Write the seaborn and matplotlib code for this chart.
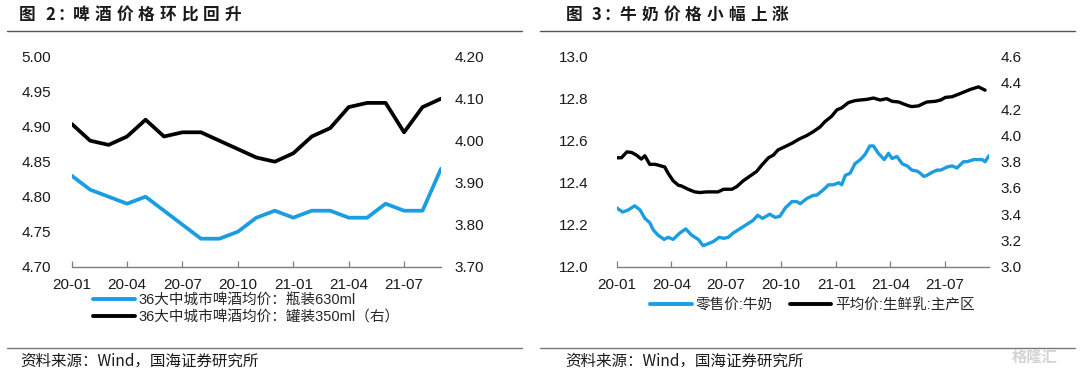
import pandas as pd
import matplotlib.pyplot as plt
import matplotlib.dates as mdates
from matplotlib.lines import Line2D
import seaborn as sns

# 图2：啤酒价格（月度，20-01 ~ 21-09）
beer_months = ['20-01', '20-02', '20-03', '20-04', '20-05', '20-06', '20-07',
               '20-08', '20-09', '20-10', '20-11', '20-12', '21-01', '21-02',
               '21-03', '21-04', '21-05', '21-06', '21-07', '21-08', '21-09']
bottle_630 = [4.83, 4.81, 4.80, 4.79, 4.80, 4.78, 4.76, 4.74, 4.74, 4.75, 4.77,
              4.78, 4.77, 4.78, 4.78, 4.77, 4.77, 4.79, 4.78, 4.78, 4.84]
can_350 = [4.04, 4.00, 3.99, 4.01, 4.05, 4.01, 4.02, 4.02, 4.00, 3.98, 3.96,
           3.95, 3.97, 4.01, 4.03, 4.08, 4.09, 4.09, 4.02, 4.08, 4.10]
beer_labels = ['36大中城市啤酒均价：瓶装630ml', '36大中城市啤酒均价：罐装350ml（右）']

# 图3：牛奶价格（周度）
milk_retail_dates = [
    '2020-01-01', '2020-01-11', '2020-01-20', '2020-01-31', '2020-02-09', '2020-02-17',
    '2020-02-25', '2020-03-02', '2020-03-10', '2020-03-20', '2020-03-27', '2020-04-04',
    '2020-04-15', '2020-04-25', '2020-05-05', '2020-05-16', '2020-05-24', '2020-06-02',
    '2020-06-10', '2020-06-20', '2020-06-27', '2020-07-05', '2020-07-13', '2020-07-24',
    '2020-08-04', '2020-08-15', '2020-08-23', '2020-08-31', '2020-09-12', '2020-09-21',
    '2020-09-29', '2020-10-08', '2020-10-19', '2020-10-27', '2020-11-02', '2020-11-13',
    '2020-11-24', '2020-11-29', '2020-12-10', '2020-12-19', '2020-12-27', '2021-01-05',
    '2021-01-10', '2021-01-16', '2021-01-24', '2021-02-01', '2021-02-10', '2021-02-18',
    '2021-02-26', '2021-03-04', '2021-03-12', '2021-03-22', '2021-03-29', '2021-04-04',
    '2021-04-12', '2021-04-21', '2021-04-29', '2021-05-07', '2021-05-16', '2021-05-21',
    '2021-05-27', '2021-06-01', '2021-06-10', '2021-06-18', '2021-06-24', '2021-07-05',
    '2021-07-13', '2021-07-21', '2021-08-01', '2021-08-07', '2021-08-18', '2021-08-26',
    '2021-09-01', '2021-09-06', '2021-09-13']
milk_retail = [
    12.28, 12.26, 12.27, 12.29, 12.27, 12.23,
    12.21, 12.175, 12.15, 12.13, 12.14, 12.13,
    12.16, 12.18, 12.15, 12.13, 12.10, 12.11,
    12.12, 12.14, 12.135, 12.14, 12.16, 12.18,
    12.20, 12.22, 12.245, 12.23, 12.25, 12.235,
    12.24, 12.28, 12.31, 12.31, 12.30, 12.325,
    12.34, 12.34, 12.365, 12.39, 12.39, 12.40,
    12.39, 12.435, 12.445, 12.49, 12.51, 12.535,
    12.575, 12.575, 12.54, 12.51, 12.54, 12.515,
    12.525, 12.49, 12.48, 12.46, 12.455, 12.445,
    12.43, 12.435, 12.45, 12.46, 12.46, 12.475,
    12.48, 12.47, 12.50, 12.50, 12.51, 12.51,
    12.51, 12.50, 12.53]

raw_milk_dates = [
    '2020-01-01', '2020-01-09', '2020-01-18', '2020-01-26', '2020-02-03', '2020-02-11',
    '2020-02-17', '2020-02-25', '2020-03-05', '2020-03-13', '2020-03-21', '2020-03-27',
    '2020-04-04', '2020-04-13', '2020-04-18', '2020-04-29', '2020-05-10', '2020-05-19',
    '2020-05-30', '2020-06-10', '2020-06-18', '2020-06-27', '2020-07-11', '2020-07-19',
    '2020-07-30', '2020-08-10', '2020-08-21', '2020-08-30', '2020-09-10', '2020-09-18',
    '2020-09-26', '2020-10-10', '2020-10-21', '2020-10-30', '2020-11-13', '2020-11-24',
    '2020-12-05', '2020-12-13', '2020-12-24', '2021-01-02', '2021-01-10', '2021-01-21',
    '2021-02-01', '2021-02-10', '2021-02-21', '2021-03-04', '2021-03-15', '2021-03-26',
    '2021-04-04', '2021-04-15', '2021-04-23', '2021-05-02', '2021-05-07', '2021-05-18',
    '2021-05-27', '2021-06-01', '2021-06-15', '2021-06-24', '2021-07-02', '2021-07-13',
    '2021-07-27', '2021-08-04', '2021-08-12', '2021-08-26', '2021-09-06']
raw_milk = [
    3.83, 3.83, 3.875, 3.87, 3.85, 3.82,
    3.845, 3.78, 3.78, 3.77, 3.76, 3.71,
    3.655, 3.62, 3.615, 3.59, 3.57, 3.565,
    3.57, 3.57, 3.57, 3.59, 3.59, 3.61,
    3.655, 3.69, 3.725, 3.775, 3.83, 3.85,
    3.89, 3.92, 3.945, 3.97, 4.00, 4.03,
    4.065, 4.105, 4.145, 4.195, 4.21, 4.25,
    4.265, 4.27, 4.275, 4.285, 4.27, 4.28,
    4.26, 4.255, 4.24, 4.225, 4.22, 4.225,
    4.245, 4.255, 4.26, 4.27, 4.29, 4.295,
    4.32, 4.335, 4.35, 4.37, 4.345]
milk_labels = ['零售价:牛奶', '平均价:生鲜乳:主产区']

BLUE = '#1b9de2'
BLACK = '#000000'
TEXT = '#1a1a1a'
W, H = 1080, 374

sns.set_theme(style='white')
plt.rcParams['font.family'] = ['Liberation Sans', 'Noto Sans CJK SC']
plt.rcParams['axes.unicode_minus'] = False

fig = plt.figure(figsize=(W / 100, H / 100), dpi=100)


def fx(px):
    return px / W


def fy(py):
    return 1 - py / H


def style_axes(ax, ax2, left_pad, right_pad):
    for s in ['top', 'left', 'right']:
        ax.spines[s].set_visible(False)
    ax.spines['bottom'].set_color('#7f7f7f')
    ax.spines['bottom'].set_linewidth(1.0)
    for s in ax2.spines.values():
        s.set_visible(False)
    ax.tick_params(axis='x', direction='in', length=4.5, width=0.9, color='#7f7f7f',
                   pad=8, labelsize=11, labelcolor=TEXT, bottom=True)
    ax.tick_params(axis='y', length=0, pad=left_pad, labelsize=11, labelcolor=TEXT)
    ax2.tick_params(axis='y', length=0, pad=right_pad, labelsize=11, labelcolor=TEXT)
    ax.grid(False)
    ax2.grid(False)


# ---- 左图：啤酒 ----
ax1 = fig.add_axes([fx(71.7), fy(266.7), fx(441) - fx(71.7), fy(56.7) - fy(266.7)])
ax1b = ax1.twinx()
xpos = list(range(len(beer_months)))
sns.lineplot(x=xpos, y=bottle_630, ax=ax1, color=BLUE, lw=2.7)
sns.lineplot(x=xpos, y=can_350, ax=ax1b, color=BLACK, lw=2.7)
ax1.set_xlim(0, len(beer_months) - 1)
ax1.set_xticks(xpos[::3])
ax1.set_xticklabels(beer_months[::3])
ax1.set_ylim(4.70, 5.00)
ax1.set_yticks([4.70, 4.75, 4.80, 4.85, 4.90, 4.95, 5.00])
ax1.yaxis.set_major_formatter('{x:.2f}')
ax1b.set_ylim(3.70, 4.20)
ax1b.set_yticks([3.70, 3.80, 3.90, 4.00, 4.10, 4.20])
ax1b.yaxis.set_major_formatter('{x:.2f}')
style_axes(ax1, ax1b, 15, 10)
ax1.set_xlabel('')

h1 = [Line2D([], [], color=BLUE, lw=2.8), Line2D([], [], color=BLACK, lw=2.8)]
fig.legend(h1, beer_labels, loc='upper left', bbox_to_anchor=(fx(93), fy(293)),
           frameon=False, fontsize=10.5, handlelength=2.85, handletextpad=0.25,
           labelspacing=0.2, borderpad=0, borderaxespad=0)

# ---- 右图：牛奶 ----
ax2 = fig.add_axes([fx(616.7), fy(266.7), fx(989.3) - fx(616.7), fy(56.7) - fy(266.7)])
ax2b = ax2.twinx()
sns.lineplot(x=pd.to_datetime(milk_retail_dates), y=milk_retail, ax=ax2, color=BLUE, lw=2.4)
sns.lineplot(x=pd.to_datetime(raw_milk_dates), y=raw_milk, ax=ax2b, color=BLACK, lw=2.4)
ax2.set_xlim(pd.Timestamp('2020-01-01'), pd.Timestamp('2021-09-13'))
ax2.set_xticks(pd.to_datetime(['2020-01-01', '2020-04-01', '2020-07-01', '2020-10-01',
                               '2021-01-01', '2021-04-01', '2021-07-01']))
ax2.xaxis.set_major_formatter(mdates.DateFormatter('%y-%m'))
ax2.set_ylim(12.0, 13.0)
ax2.set_yticks([12.0, 12.2, 12.4, 12.6, 12.8, 13.0])
ax2.yaxis.set_major_formatter('{x:.1f}')
ax2b.set_ylim(3.0, 4.6)
ax2b.set_yticks([3.0, 3.2, 3.4, 3.6, 3.8, 4.0, 4.2, 4.4, 4.6])
ax2b.yaxis.set_major_formatter('{x:.1f}')
style_axes(ax2, ax2b, 20, 8)
ax2.set_xlabel('')

h2 = [Line2D([], [], color=BLUE, lw=2.8), Line2D([], [], color=BLACK, lw=2.8)]
fig.legend(h2, milk_labels, loc='upper left', bbox_to_anchor=(fx(650), fy(298)),
           ncol=2, frameon=False, fontsize=10.5, handlelength=2.85, handletextpad=0.25,
           columnspacing=1.2, borderpad=0, borderaxespad=0)


# ---- 标题、分隔线、资料来源 ----
def chart_title(x, num, body):
    kw = dict(fontsize=12, fontweight='bold', color=TEXT, va='center', ha='left',
              family=['Noto Sans CJK SC'])
    fig.text(fx(x), fy(15), '图', **kw)
    fig.text(fx(x + 26), fy(15), num, **kw)
    fig.text(fx(x + 38), fy(15), '：', **kw)
    for i, ch in enumerate(body):
        fig.text(fx(x + 54 + i * 21.7), fy(15), ch, **kw)


chart_title(19, '2', '啤酒价格环比回升')
chart_title(565.7, '3', '牛奶价格小幅上涨')

for x0, x1 in [(7, 522), (540, 1075)]:
    fig.add_artist(Line2D([fx(x0), fx(x1)], [fy(31), fy(31)], color='#555555', lw=1.0))
    fig.add_artist(Line2D([fx(x0), fx(x1)], [fy(348), fy(348)], color='#777777', lw=1.0))

src = '资料来源：Wind，国海证券研究所'
fig.text(fx(20), fy(361), src, fontsize=11.2, color=TEXT, va='center', ha='left',
         family=['Noto Sans CJK SC'])
fig.text(fx(565), fy(361), src, fontsize=11.2, color=TEXT, va='center', ha='left',
         family=['Noto Sans CJK SC'])
fig.text(fx(1012), fy(357), '格隆汇', fontsize=11, fontweight='bold', color='#d4d4d4',
         va='center', ha='left', family=['Noto Sans CJK SC'])

fig.savefig('out.png', dpi=100)
